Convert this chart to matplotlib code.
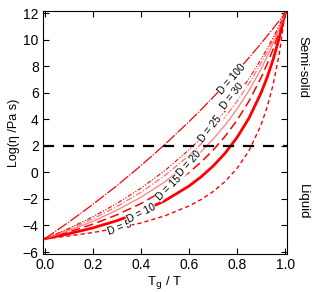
import numpy as np
import matplotlib
matplotlib.use('Agg')
import matplotlib.pyplot as plt

plt.rcParams['font.family'] = ['Liberation Sans', 'DejaVu Sans']

# Tg/T grid and log viscosity for each fragility D
x = [0, 0.1, 0.2, 0.3, 0.4, 0.5, 0.6, 0.65, 0.7, 0.75, 0.8, 0.85, 0.9, 0.925, 0.95, 0.975, 1.0]
d5 = [-5.00, -4.79, -4.53, -4.21, -3.81, -3.27, -2.53, -2.05, -1.45, -0.69, 0.30, 1.64, 3.58, 4.91, 6.60, 8.86, 12.00]
d10 = [-5.00, -4.62, -4.18, -3.64, -2.97, -2.13, -1.03, -0.34, 0.47, 1.44, 2.63, 4.10, 5.99, 7.15, 8.50, 10.10, 12.00]
d15 = [-5.00, -4.49, -3.90, -3.20, -2.35, -1.31, -0.01, 0.77, 1.67, 2.71, 3.93, 5.38, 7.13, 8.15, 9.28, 10.56, 12.00]
d20 = [-5.00, -4.38, -3.68, -2.85, -1.87, -0.71, 0.72, 1.56, 2.50, 3.56, 4.77, 6.17, 7.79, 8.71, 9.71, 10.80, 12.00]
d25 = [-5.00, -4.29, -3.49, -2.57, -1.50, -0.23, 1.27, 2.14, 3.09, 4.16, 5.36, 6.70, 8.23, 9.07, 9.98, 10.95, 12.00]
d30 = [-5.00, -4.22, -3.34, -2.34, -1.19, 0.14, 1.70, 2.58, 3.55, 4.61, 5.78, 7.08, 8.53, 9.32, 10.16, 11.05, 12.00]
d100 = [-5.00, -3.74, -2.41, -1.00, 0.51, 2.11, 3.82, 4.72, 5.65, 6.61, 7.61, 8.65, 9.72, 10.28, 10.84, 11.41, 12.00]

fig = plt.figure(figsize=(3.2, 2.92), dpi=100)
ax = fig.add_axes([0.134, 0.130, 0.763, 0.832])

ax.plot(x, d5, color='red', lw=1.0, ls=(0, (3, 2.2)))
ax.plot(x, d10, color='red', lw=2.0, ls='-')
ax.plot(x, d15, color='red', lw=1.1, ls=(0, (6, 3)))
ax.plot(x, d20, color='#ff8080', lw=0.9, ls='-')
ax.plot(x, d25, color='#ff7070', lw=0.9, ls=(0, (5, 1.5, 1, 1.5)))
ax.plot(x, d30, color='red', lw=0.8, ls=(0, (4, 1.5, 1, 1.5, 1, 1.5)))
ax.plot(x, d100, color='red', lw=0.9, ls=(0, (9, 1.2, 1, 1.2)))

ax.axhline(2, color='black', lw=1.6, ls=(0, (5, 4)))

# curve labels
labels = [('D = 5', 0.31, -4.2, 20), ('D = 10', 0.40, -3.05, 27),
          ('D = 15', 0.515, -1.15, 45), ('D = 20', 0.60, 0.65, 48),
          ('D = 25', 0.69, 3.3, 52), ('D = 30', 0.78, 5.75, 52),
          ('D = 100', 0.78, 7.0, 49)]
for txt, lx, ly, rot in labels:
    ax.text(lx, ly, txt, fontsize=7.5, rotation=rot, ha='center', va='center',
            rotation_mode='anchor',
            bbox=dict(facecolor='white', edgecolor='none', pad=0.2))

ax.set_xlim(-0.008, 1.008)
ax.set_ylim(-6.15, 12.15)
ax.set_xticks([0.0, 0.2, 0.4, 0.6, 0.8, 1.0])
ax.set_yticks(range(-6, 13, 2))
ax.set_xticklabels(['0.0', '0.2', '0.4', '0.6', '0.8', '1.0'])
ax.tick_params(direction='in', top=True, right=True, labelsize=10, length=4, width=0.8, pad=3)
for s in ax.spines.values():
    s.set_linewidth(0.8)

ax.set_xlabel(r'T$_{\rm g}$ / T', fontsize=9.5, labelpad=1)
ax.set_ylabel('Log(η /Pa s)', fontsize=9, labelpad=2)

fig.text(0.945, 0.77, 'Semi-solid', rotation=-90, fontsize=9.5, ha='center', va='center')
fig.text(0.945, 0.31, 'Liquid', rotation=-90, fontsize=9.5, ha='center', va='center')

fig.savefig('out.png', dpi=100)
